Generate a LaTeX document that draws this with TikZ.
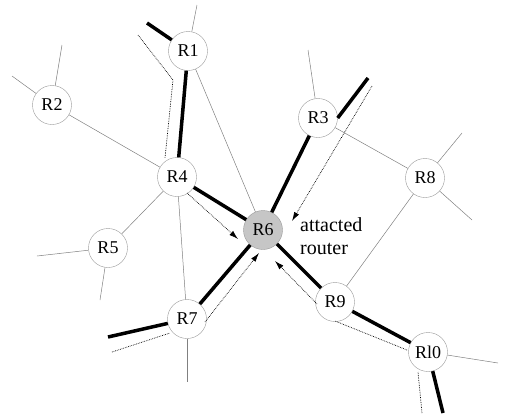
\documentclass[tikz,border=0pt]{standalone}
\usepackage{fontspec}
\setmainfont{Liberation Serif}
\usetikzlibrary{positioning,arrows.meta,arrows}

\begin{document}
\begin{tikzpicture}[x=1pt,y=-1pt,>={Latex[length=9pt,width=5.5pt]},
    router/.style={circle,draw=gray!80,fill=white,minimum size=39pt,inner sep=0pt,font=\fontsize{18}{20}\selectfont},
    link/.style={gray,line width=0.5pt},
    route/.style={line width=3.5pt},
    trace/.style={densely dotted,line width=0.7pt}]
            \useasboundingbox (0,0) rectangle (505,413);
            % routers
            \node[router] (r1) at (188,51) {R1};
            \node[router] (r2) at (52,105) {R2};
            \node[router] (r3) at (318,118) {R3};
            \node[router] (r4) at (177,177) {R4};
            \node[router] (r5) at (108,248) {R5};
            \node[router,fill=gray!45] (r6) at (263,230) {R6};
            \node[router] (r7) at (187,319) {R7};
            \node[router] (r8) at (425,178) {R8};
            \node[router] (r9) at (335,302) {R9};
            \node[router] (r10) at (428,352) {Rl0};
            \node[anchor=west,align=left,inner sep=0pt,font=\fontsize{20}{23}\selectfont] (lbl) at (300,236) {attacted\\router};
            % free ends
            \coordinate (e1) at (197,5);
            \coordinate (e2a) at (62,45);
            \coordinate (e2b) at (12,76);
            \coordinate (e3) at (308,50);
            \coordinate (e5a) at (37,256);
            \coordinate (e5b) at (100,300);
            \coordinate (e7) at (187,382);
            \coordinate (e8a) at (462,133);
            \coordinate (e8b) at (472,220);
            \coordinate (e10) at (498,363);
            % thin links
            \draw[link] (r1) -- (e1);
            \draw[link] (r1) -- (r6);
            \draw[link] (r2) -- (e2a);
            \draw[link] (r2) -- (e2b);
            \draw[link] (r2) -- (r4);
            \draw[link] (r4) -- (r5);
            \draw[link] (r5) -- (e5a);
            \draw[link] (r5) -- (e5b);
            \draw[link] (r4) -- (r7);
            \draw[link] (r7) -- (e7);
            \draw[link] (r3) -- (e3);
            \draw[link] (r3) -- (r8);
            \draw[link] (r8) -- (e8a);
            \draw[link] (r8) -- (e8b);
            \draw[link] (r8) -- (r9);
            \draw[link] (r10) -- (e10);
            % thick routes
            \coordinate (t1) at (147,23);
            \coordinate (t3) at (368,78);
            \coordinate (t7) at (108,337);
            \coordinate (t10) at (443,413);
            \draw[route] (t1) -- (r1);
            \draw[route] (r1) -- (r4);
            \draw[route] (r4) -- (r6);
            \draw[route] (t3) -- (r3.east);
            \draw[route] (r3) -- (r6);
            \draw[route] (t7) -- (r7);
            \draw[route] (r7) -- (r6);
            \draw[route] (t10) -- (r10);
            \draw[route] (r10) -- (r9);
            \draw[route] (r9) -- (r6);
            % dotted traces
            \draw[trace] (138,35) -- (173,80) -- (165,158);
            \draw[trace,->] (187,193) -- (238,239);
            \draw[trace,->] (372,86) -- (292,221);
            \draw[trace] (112,352) -- (170,333);
            \draw[trace,->] (205,322) -- (259,253);
            \draw[trace] (422,413) -- (418,372);
            \draw[trace] (407,350) -- (335,321);
            \draw[trace,->] (317,304) -- (275,261);
        \end{tikzpicture}
\end{document}
